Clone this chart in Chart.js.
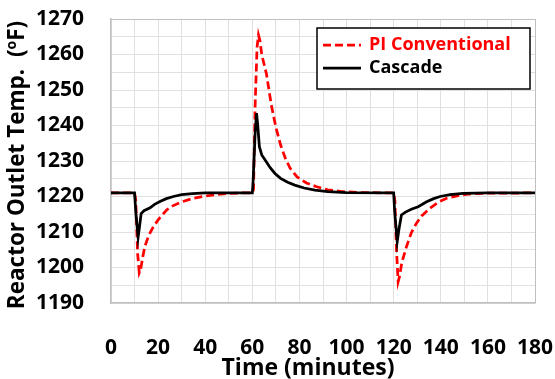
<!DOCTYPE html>
<html>
<head>
<meta charset="utf-8">
<script src="https://cdn.jsdelivr.net/npm/chart.js@4.4.1/dist/chart.umd.min.js"></script>
<style>
html,body{margin:0;padding:0;background:#fff;}
#wrap{width:555px;height:379px;position:relative;}
</style>
</head>
<body>
<div id="wrap"><canvas id="c" width="555" height="379"></canvas></div>
<script>
// ---- data ----
const seriesNames = ["PI Conventional", "Cascade"];
const piTime = [0,10,10.5,11.3,12.0,12.6,13.5,14.4,16,18,20,23.6,26,30,35,40,45,50,55,60,60.5,61.2,62,62.6,63.2,64,66,68,70,72,74,76,79,83,87,92,98,105,120,120.5,121.2,121.9,122.5,123.5,125.5,127.5,129.7,132,135.4,139,142.5,147,152,160,180];
const piTemp = [1221,1221,1219,1204,1198.5,1199.5,1203,1206,1209,1211.5,1213.4,1216.2,1217.3,1218.5,1219.5,1220.1,1220.6,1220.85,1221,1221,1222,1246,1262,1265.5,1264,1260,1254.5,1246,1239.5,1234.5,1230.8,1228,1225.5,1223.8,1222.8,1221.9,1221.4,1221.1,1221,1219,1205,1196,1197.5,1201.5,1206,1209.8,1212.5,1214.6,1216.7,1218.4,1219.5,1220.2,1220.7,1220.95,1221];
const cascadeTime = [0,10,10.6,11.5,12.0,12.8,14,16.6,18.5,20.8,23.5,26.5,30,34.6,40,60,60.3,61.2,61.8,62.3,63,64,65.5,67.5,69.6,72,75,78,82,86.6,92,100,120,120.4,121.5,122.3,123.3,125,127.5,130.4,134,137,139.7,144,149.5,160,180];
const cascadeTemp = [1221,1221,1215,1208.5,1211,1215.2,1216,1216.8,1217.8,1218.6,1219.4,1220.0,1220.5,1220.8,1221,1221,1224,1238,1243.5,1240,1234,1231.7,1230.2,1228.2,1226.5,1225.1,1224,1223.2,1222.4,1221.8,1221.4,1221.1,1221,1216,1207.3,1211,1214.8,1215.6,1216.4,1217.1,1218.5,1219.4,1220.0,1220.5,1220.9,1221,1221];
const xRange = [0, 180];
const yRange = [1190, 1270];
const xTitle = "Time (minutes)";
const yTitleParts = ["Reactor Outlet Temp.  (", "o", "F)"];

const toPts = (t, v) => t.map((x, i) => ({x: x, y: v[i]}));
const FONT = "'Open Sans', 'Liberation Sans', sans-serif";

const overlay = {
  id: 'overlay',
  afterDraw(chart) {
    const ctx = chart.ctx;
    ctx.save();
    // x title
    ctx.fillStyle = '#000';
    ctx.font = "bold 23px " + FONT;
    ctx.textAlign = 'center';
    ctx.textBaseline = 'middle';
    ctx.fillText(xTitle, 308, 368);
    // y title (rotated, with superscript)
    ctx.save();
    ctx.translate(18, 165);
    ctx.rotate(-Math.PI / 2);
    ctx.textAlign = 'left';
    ctx.textBaseline = 'middle';
    const big = "bold 22.5px " + FONT, small = "bold 14px " + FONT;
    ctx.font = big; const w1 = ctx.measureText(yTitleParts[0]).width;
    ctx.font = small; const w2 = ctx.measureText(yTitleParts[1]).width;
    ctx.font = big; const w3 = ctx.measureText(yTitleParts[2]).width;
    let x0 = -(w1 + w2 + w3) / 2;
    ctx.font = big; ctx.fillText(yTitleParts[0], x0, 0);
    ctx.font = small; ctx.fillText(yTitleParts[1], x0 + w1, -6);
    ctx.font = big; ctx.fillText(yTitleParts[2], x0 + w1 + w2, 0);
    ctx.restore();
    // legend
    const bx = 317, by = 28, bw = 213, bh = 61;
    ctx.fillStyle = '#fff';
    ctx.fillRect(bx, by, bw, bh);
    ctx.strokeStyle = '#000';
    ctx.lineWidth = 1.5;
    ctx.strokeRect(bx, by, bw, bh);
    const rows = [45, 68];
    chart.data.datasets.forEach((ds, i) => {
      const y = rows[i];
      ctx.beginPath();
      ctx.strokeStyle = ds.borderColor;
      ctx.lineWidth = ds.borderWidth;
      ctx.setLineDash(ds.borderDash || []);
      ctx.moveTo(323, y); ctx.lineTo(361, y);
      ctx.stroke();
      ctx.setLineDash([]);
      ctx.fillStyle = ds.borderColor;
      ctx.font = "bold 18px " + FONT;
      ctx.textAlign = 'left';
      ctx.textBaseline = 'middle';
      ctx.fillText(ds.label, 369, y);
    });
    ctx.restore();
  }
};

const gridColor = (ctx, isX) => {
  const v = ctx.tick ? ctx.tick.value : null;
  if (isX && v === xRange[1]) return '#bfbfbf';
  if (!isX && v === yRange[1]) return '#bfbfbf';
  return '#e0e0e0';
};
const zeroPad = s => { s.paddingTop = 0; s.paddingBottom = 0; s.paddingLeft = 0; s.paddingRight = 0; };

new Chart(document.getElementById('c'), {
  type: 'line',
  data: {
    datasets: [
      { label: seriesNames[0], data: toPts(piTime, piTemp), borderColor: '#ff0000', borderWidth: 2.75, borderDash: [8, 4], pointRadius: 0, tension: 0, fill: false, order: 1 },
      { label: seriesNames[1], data: toPts(cascadeTime, cascadeTemp), borderColor: '#000000', borderWidth: 2.75, pointRadius: 0, tension: 0, fill: false, order: 0 }
    ]
  },
  options: {
    responsive: false,
    animation: false,
    layout: { padding: { left: 0, right: 20, top: 19, bottom: 0 } },
    plugins: { legend: { display: false }, tooltip: { enabled: false } },
    scales: {
      x: {
        type: 'linear', min: xRange[0], max: xRange[1],
        afterFit: s => { s.height = 76; zeroPad(s); },
        grid: { color: c => gridColor(c, true), lineWidth: 1, drawTicks: false },
        border: { color: '#bfbfbf', width: 1.5 },
        ticks: { stepSize: 10, autoSkip: false, maxRotation: 0, padding: 32, color: '#000',
          font: { family: FONT, size: 21, weight: 'bold' },
          callback: v => (v % 20 === 0 ? String(v) : '') }
      },
      y: {
        type: 'linear', min: yRange[0], max: yRange[1],
        afterFit: s => { s.width = 111; zeroPad(s); },
        grid: { color: c => gridColor(c, false), lineWidth: 1, drawTicks: false },
        border: { color: '#bfbfbf', width: 1.5 },
        ticks: { stepSize: 5, autoSkip: false, padding: 27, color: '#000',
          font: { family: FONT, size: 21, weight: 'bold' },
          callback: v => (v % 10 === 0 ? String(v) : '') }
      }
    }
  },
  plugins: [overlay]
});
</script>
</body>
</html>
